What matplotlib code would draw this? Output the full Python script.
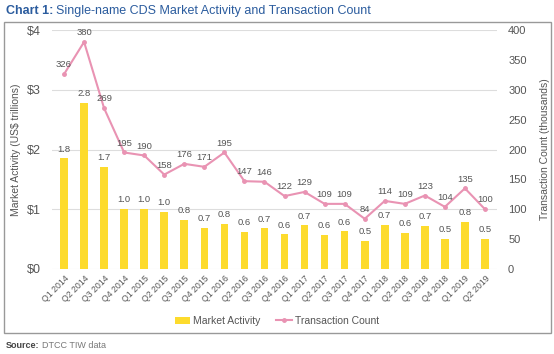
import numpy as np
import matplotlib.pyplot as plt
from matplotlib.patches import Rectangle

plt.rcParams["font.family"] = ["Liberation Sans", "DejaVu Sans"]

quarters = ["Q1 2014", "Q2 2014", "Q3 2014", "Q4 2014", "Q1 2015", "Q2 2015",
            "Q3 2015", "Q4 2015", "Q1 2016", "Q2 2016", "Q3 2016", "Q4 2016",
            "Q1 2017", "Q2 2017", "Q3 2017", "Q4 2017", "Q1 2018", "Q2 2018",
            "Q3 2018", "Q4 2018", "Q1 2019", "Q2 2019"]
activity = [1.85, 2.78, 1.71, 1.00, 1.00, 0.96, 0.82, 0.69, 0.76, 0.62, 0.68,
            0.58, 0.73, 0.57, 0.63, 0.47, 0.74, 0.60, 0.72, 0.51, 0.79, 0.51]
activity_labels = ["1.8", "2.8", "1.7", "1.0", "1.0", "1.0", "0.8", "0.7", "0.8",
                   "0.6", "0.7", "0.6", "0.7", "0.6", "0.6", "0.5", "0.7", "0.6",
                   "0.7", "0.5", "0.8", "0.5"]
count = [326, 380, 269, 195, 190, 158, 176, 171, 195, 147, 146, 122, 129, 109,
         109, 84, 114, 109, 123, 104, 135, 100]

bar_color = "#FDDB2D"
line_color = "#E993B3"
text_color = "#555555"

fig = plt.figure(figsize=(5.54, 3.54), dpi=100)
W, H = 554, 354
renderer = fig.canvas.get_renderer()


def text_after(prev, s, **kw):
    # put a text right after another one on the same line
    bb = prev.get_window_extent(renderer)
    x0 = (bb.x1 + 3) / W
    return fig.text(x0, prev.get_position()[1], s, **kw)


# outer frame around the chart
fig.patches.append(Rectangle((4 / W, 1 - 333 / H), 547 / W, 311 / H,
                             transform=fig.transFigure, fill=False,
                             edgecolor="#999999", linewidth=1.0))

t = fig.text(6 / W, 1 - 11 / H, "Chart 1:", color="#2B5C9E", fontsize=9,
             fontweight="bold", va="center")
text_after(t, "Single-name CDS Market Activity and Transaction Count",
           color="#2B5C9E", fontsize=9, va="center")
s = fig.text(6 / W, 1 - 345 / H, "Source:", color="#444444", fontsize=6.5,
             fontweight="bold", va="center")
text_after(s, "DTCC TIW data", color="#777777", fontsize=6.5, va="center")

ax1 = fig.add_axes([52 / W, 1 - 269 / H, (497 - 52) / W, (269 - 30) / H])
x = np.arange(len(quarters))
bars = ax1.bar(x, activity, width=0.38, color=bar_color, label="Market Activity", zorder=2)
ax1.set_ylim(0, 4)
ax1.set_xlim(-0.6, len(quarters) - 0.4)
ax1.set_yticks([0, 1, 2, 3, 4])
ax1.set_yticklabels(["$0", "$1", "$2", "$3", "$4"])
ax1.grid(axis="y", color="#DDDDDD", linewidth=0.8, zorder=0)
ax1.set_axisbelow(True)
for sp in ax1.spines.values():
    sp.set_visible(False)
ax1.tick_params(axis="both", length=0, colors=text_color)
ax1.tick_params(axis="y", labelsize=9, pad=8)
ax1.set_xticks(x)
ax1.set_xticklabels(quarters, rotation=45, ha="right", rotation_mode="anchor", fontsize=6.3)
ax1.set_ylabel("Market Activity (US$ trillions)", color=text_color, fontsize=7.5)
for xi, v, lab in zip(x, activity, activity_labels):
    ax1.text(xi, v + 0.08, lab, ha="center", va="bottom", fontsize=6.8, color=text_color)

ax2 = ax1.twinx()
ax2.plot(x, count, color=line_color, linewidth=1.5, marker="o", markersize=2.5,
         label="Transaction Count", zorder=3)
ax2.set_ylim(0, 400)
ax2.set_yticks(range(0, 401, 50))
for sp in ax2.spines.values():
    sp.set_visible(False)
ax2.tick_params(axis="y", length=0, colors=text_color, labelsize=8, pad=8)
ax2.set_ylabel("Transaction Count (thousands)", color=text_color, fontsize=7.5, labelpad=10)
for xi, v in zip(x, count):
    ax2.text(xi, v + 8, str(v), ha="center", va="bottom", fontsize=6.8, color=text_color)

handles = [bars, ax2.lines[0]]
fig.legend(handles, ["Market Activity", "Transaction Count"], loc="center",
           bbox_to_anchor=(277 / W, 1 - 321 / H), ncol=2, frameon=False,
           fontsize=7.5, labelcolor=text_color, handlelength=1.5, columnspacing=1.5,
           handletextpad=0.3)

fig.savefig("out.png", dpi=100)
